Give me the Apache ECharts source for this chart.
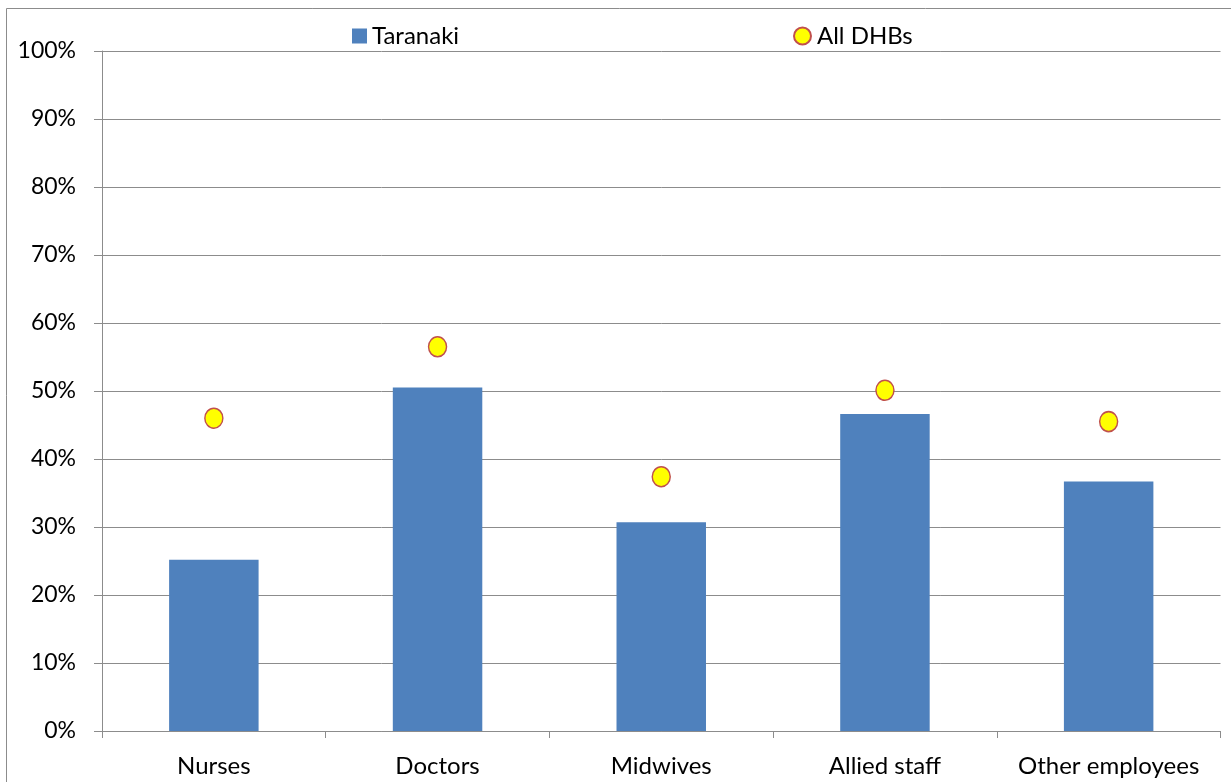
<!DOCTYPE html>
<html>
<head>
<meta charset="utf-8">
<title>Taranaki vs All DHBs</title>
<script src="https://cdn.jsdelivr.net/npm/echarts@6/dist/echarts.min.js"></script>
<style>
  html, body { margin: 0; padding: 0; background: #fff; }
  #chart { width: 1231px; height: 782px; }
</style>
</head>
<body>
<div id="chart"></div>
<script>
// data
const categories = ['Nurses', 'Doctors', 'Midwives', 'Allied staff', 'Other employees']
const taranaki = [25.2, 50.5, 30.7, 46.6, 36.7]
const allDhbs = [46.0, 56.5, 37.4, 50.1, 45.5]
const yTicks = [0, 10, 20, 30, 40, 50, 60, 70, 80, 90, 100]

const font = 'Lato, Carlito, "Liberation Sans", sans-serif'
const chart = echarts.init(document.getElementById('chart'))

chart.setOption({
  animation: false,
  backgroundColor: '#fff',
  textStyle: { fontFamily: font, color: '#000' },
  graphic: [
    {
      type: 'rect',
      shape: { x: 6.5, y: 8.5, width: 1240, height: 800 },
      style: { fill: 'none', stroke: '#8c8c8c', lineWidth: 1 },
      silent: true
    }
  ],
  legend: [
    {
      data: [{ name: 'Taranaki', icon: 'rect' }],
      left: 347,
      top: 19,
      itemWidth: 15,
      itemHeight: 15,
      itemStyle: { color: '#4f81bd' },
      textStyle: { fontFamily: font, fontSize: 24, color: '#000' }
    },
    {
      data: [{ name: 'All DHBs', icon: 'circle' }],
      left: 788,
      top: 19,
      itemWidth: 17,
      itemHeight: 17,
      textStyle: { fontFamily: font, fontSize: 24, color: '#000', padding: [0, 0, 0, 1] }
    }
  ],
  grid: { left: 102, right: 10.5, top: 51, bottom: 51, containLabel: false },
  xAxis: {
    type: 'category',
    data: categories,
    axisLine: { lineStyle: { color: '#8c8c8c', width: 1 } },
    axisTick: { show: true, alignWithLabel: false, length: 7, inside: false, lineStyle: { color: '#8c8c8c' } },
    axisLabel: { fontFamily: font, fontSize: 24, color: '#000', margin: 23, interval: 0 }
  },
  yAxis: {
    type: 'value',
    min: yTicks[0],
    max: yTicks[yTicks.length - 1],
    interval: 10,
    axisLine: { show: true, lineStyle: { color: '#8c8c8c', width: 1 } },
    axisTick: { show: true, length: 8, lineStyle: { color: '#8c8c8c' } },
    splitLine: { show: true, lineStyle: { color: '#8c8c8c', width: 1 } },
    axisLabel: { fontFamily: font, fontSize: 23, color: '#000', margin: 26, formatter: '{value}%' }
  },
  series: [
    {
      name: 'Taranaki',
      type: 'bar',
      data: taranaki,
      barWidth: '40%',
      itemStyle: { color: '#4f81bd' }
    },
    {
      name: 'All DHBs',
      type: 'scatter',
      data: allDhbs,
      symbol: 'circle',
      symbolSize: [18, 20],
      itemStyle: { color: '#ffff00', borderColor: '#c0504d', borderWidth: 1.5, opacity: 1 },
      z: 3
    }
  ]
})
</script>
</body>
</html>
